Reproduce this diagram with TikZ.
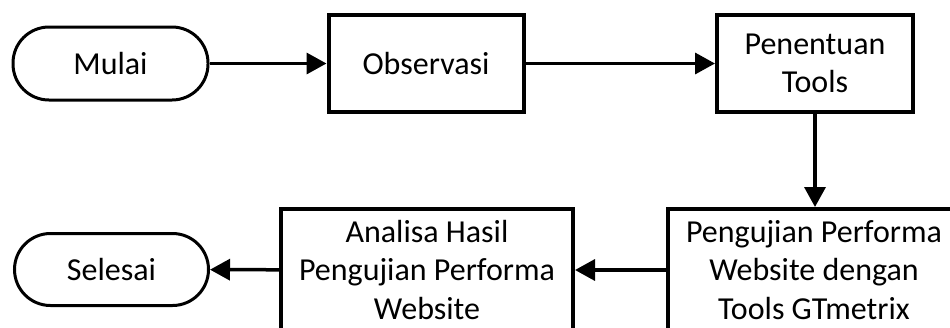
\documentclass[tikz,border=0pt]{standalone}
\usepackage{fontspec}
\setmainfont{Carlito}
\usetikzlibrary{arrows.meta}

\tikzset{
  procbox/.style={draw, line width=4pt, rectangle, align=center,
    inner sep=0pt, font=\fontsize{32}{38.3}\selectfont},
  terminal/.style={draw, line width=3pt, rectangle, rounded corners=36pt,
    inner sep=0pt, font=\fontsize{32}{38.3}\selectfont},
  flow/.style={line width=3.5pt, -{Triangle[length=20pt,width=21pt]}}
}

\begin{document}
\begin{tikzpicture}[x=1pt,y=-1pt]
  % canvas: the lower boxes run past its edges
  \path[use as bounding box, clip] (0,0) rectangle (950,327);
  \fill[white] (0,0) rectangle (950,327);

  % top row
  \node[terminal, minimum width=195pt, minimum height=73pt] (mulai) at (110.5,63.5) {Mulai};
  \node[procbox, minimum width=195pt, minimum height=97pt] (obs) at (426,63.5) {Observasi};
  \node[procbox, minimum width=196pt, minimum height=97pt] (tools) at (815,63.5) {Penentuan\\Tools};

  % bottom row
  \node[procbox, minimum width=292pt, minimum height=122pt] (uji) at (814,270) {Pengujian Performa\\Website dengan\\Tools GTmetrix};
  \node[procbox, minimum width=292pt, minimum height=122pt] (analisa) at (427,270) {Analisa Hasil\\Pengujian Performa\\Website};
  \node[terminal, minimum width=194pt, minimum height=72pt] (selesai) at (111.5,269.5) {Selesai};

  % connectors
  \draw[flow] (mulai) -- (obs);
  \draw[flow] (obs) -- (tools);
  \draw[flow] (tools.south) -- (uji.north -| tools.south);
  \draw[flow] (uji) -- (analisa);
  \draw[flow] (analisa) -- (selesai);
\end{tikzpicture}
\end{document}
